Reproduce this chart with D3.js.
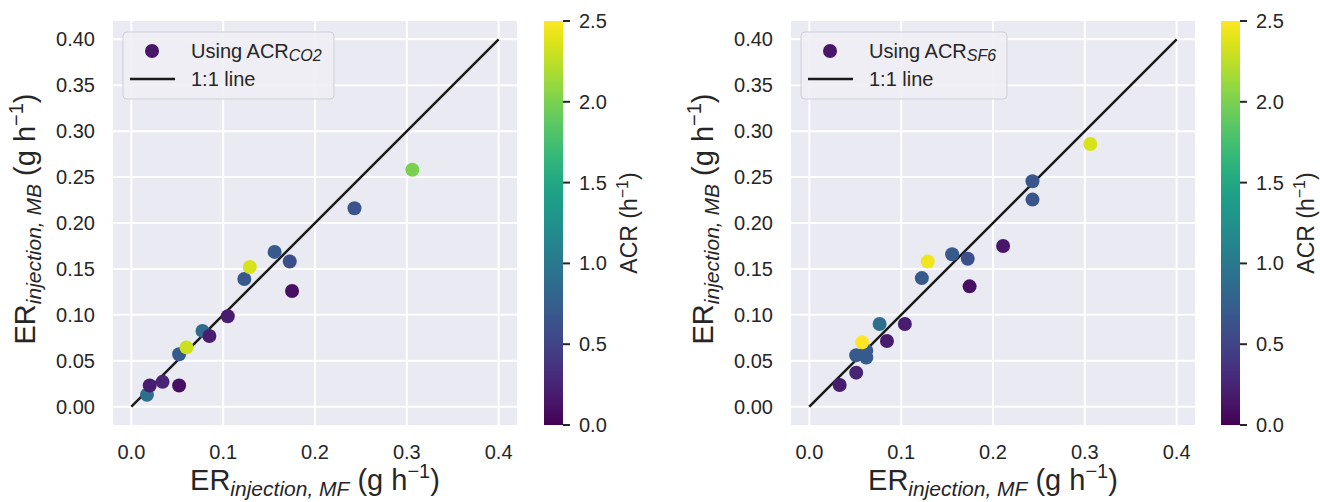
<!DOCTYPE html>
<html>
<head>
<meta charset="utf-8">
<script src="https://cdn.jsdelivr.net/npm/d3@7"></script>
<style>
  body { margin: 0; background: #fff; }
  svg text { font-family: "Liberation Sans", Arial, sans-serif; fill: #262626; }
</style>
</head>
<body>
<div id="chart"></div>
<script>
// ER injection, mass-flow (x) vs mass-balance (y), with ACR as colour
const co2MF  = [0.017, 0.020, 0.034, 0.052, 0.052, 0.060, 0.0775, 0.085, 0.105, 0.123, 0.129, 0.156, 0.1725, 0.175, 0.243, 0.306];
const co2MB  = [0.013, 0.023, 0.027, 0.023, 0.057, 0.0645, 0.0825, 0.077, 0.0985, 0.139, 0.152, 0.1685, 0.158, 0.126, 0.216, 0.258];
const co2ACR = [0.9, 0.2, 0.25, 0.1, 0.7, 2.3, 0.85, 0.2, 0.2, 0.7, 2.35, 0.7, 0.6, 0.1, 0.65, 2.0];

const sf6MF  = [0.033, 0.051, 0.051, 0.062, 0.062, 0.0575, 0.0765, 0.0845, 0.104, 0.1225, 0.129, 0.1555, 0.1725, 0.1745, 0.211, 0.243, 0.243, 0.306];
const sf6MB  = [0.0235, 0.037, 0.056, 0.0535, 0.061, 0.070, 0.090, 0.0715, 0.090, 0.140, 0.158, 0.166, 0.161, 0.131, 0.175, 0.2455, 0.2255, 0.286];
const sf6ACR = [0.2, 0.25, 0.7, 0.7, 0.7, 2.5, 0.9, 0.2, 0.2, 0.7, 2.45, 0.7, 0.6, 0.1, 0.15, 0.65, 0.65, 2.35];

const xTicks  = [0, 0.1, 0.2, 0.3, 0.4];
const yTicks  = [0, 0.05, 0.10, 0.15, 0.20, 0.25, 0.30, 0.35, 0.40];
const cbTicks = [0, 0.5, 1.0, 1.5, 2.0, 2.5];
const oneToOne = [0, 0.4];

const W = 1320, H = 502;
const svg = d3.select('#chart').append('svg')
    .attr('width', W).attr('height', H);

const color = d3.scaleSequential(d3.interpolateViridis).domain([0, 2.5]);

// shared gradient for the colour bars
const grad = svg.append('defs').append('linearGradient')
    .attr('id', 'viridis').attr('x1', 0).attr('y1', 1).attr('x2', 0).attr('y2', 0);
d3.range(0, 1.0001, 0.05).forEach(t => {
    grad.append('stop').attr('offset', t).attr('stop-color', d3.interpolateViridis(t));
});

function erLabel(sel, sub) {
    sel.append('tspan').text('ER');
    sel.append('tspan').attr('font-size', 21).attr('font-style', 'italic').attr('dy', 6).text(sub);
    sel.append('tspan').attr('dy', -6).text(' (g h');
    sel.append('tspan').attr('font-size', 20).attr('dy', -12).text('\u22121');
    sel.append('tspan').attr('dy', 12).text(')');
}

function drawPanel(p) {
    const x = d3.scaleLinear().domain([-0.02, 0.42]).range([p.left, p.left + 404]);
    const y = d3.scaleLinear().domain([-0.02, 0.42]).range([425, 21]);
    const g = svg.append('g');

    g.append('rect')
        .attr('x', x.range()[0]).attr('y', 21)
        .attr('width', 404).attr('height', 404)
        .attr('fill', '#eaeaf2');

    g.selectAll('.vgrid').data(xTicks).enter().append('line')
        .attr('x1', d => x(d)).attr('x2', d => x(d))
        .attr('y1', 21).attr('y2', 425)
        .attr('stroke', '#fff').attr('stroke-width', 2);
    g.selectAll('.hgrid').data(yTicks).enter().append('line')
        .attr('y1', d => y(d)).attr('y2', d => y(d))
        .attr('x1', x.range()[0]).attr('x2', x.range()[1])
        .attr('stroke', '#fff').attr('stroke-width', 2);

    g.selectAll('.xt').data(xTicks).enter().append('text')
        .attr('x', d => x(d)).attr('y', 459)
        .attr('text-anchor', 'middle').attr('font-size', 20)
        .text(d3.format('.1f'));
    g.selectAll('.yt').data(yTicks).enter().append('text')
        .attr('x', x.range()[0] - 18).attr('y', d => y(d) + 7)
        .attr('text-anchor', 'end').attr('font-size', 20)
        .text(d3.format('.2f'));

    // 1:1 line
    g.append('line')
        .attr('x1', x(oneToOne[0])).attr('y1', y(oneToOne[0]))
        .attr('x2', x(oneToOne[1])).attr('y2', y(oneToOne[1]))
        .attr('stroke', '#1a1a1a').attr('stroke-width', 2.5);

    g.selectAll('.pt').data(p.mf).enter().append('circle')
        .attr('cx', d => x(d))
        .attr('cy', (d, i) => y(p.mb[i]))
        .attr('r', 7)
        .attr('fill', (d, i) => color(p.acr[i]));

    // axis labels
    const xl = g.append('text')
        .attr('x', p.left + 202).attr('y', 490)
        .attr('text-anchor', 'middle').attr('font-size', 29);
    erLabel(xl, 'injection, MF');

    const yl = g.append('text')
        .attr('transform', `translate(${p.left - 78},219) rotate(-90)`)
        .attr('text-anchor', 'middle').attr('font-size', 29);
    erLabel(yl, 'injection, MB');

    // legend
    const lg = g.append('g');
    lg.append('rect')
        .attr('x', p.left + 10).attr('y', 32)
        .attr('width', p.legendW).attr('height', 67)
        .attr('rx', 4).attr('fill', '#eeeef4').attr('fill-opacity', 0.9)
        .attr('stroke', '#cfcfd6').attr('stroke-width', 1);
    lg.append('circle')
        .attr('cx', p.left + 39).attr('cy', 51).attr('r', 7)
        .attr('fill', color(0.15));
    lg.append('line')
        .attr('x1', p.left + 17).attr('x2', p.left + 62)
        .attr('y1', 79).attr('y2', 79)
        .attr('stroke', '#1a1a1a').attr('stroke-width', 2.5);
    const lt = lg.append('text').attr('x', p.left + 78).attr('y', 58).attr('font-size', 20);
    lt.append('tspan').text('Using ACR');
    lt.append('tspan').attr('font-size', 16).attr('font-style', 'italic').attr('dy', 3).text(p.gas);
    lg.append('text').attr('x', p.left + 78).attr('y', 86).attr('font-size', 20).text('1:1 line');

    // colour bar
    const cb = d3.scaleLinear().domain([0, 2.5]).range([425, 21]);
    g.append('rect')
        .attr('x', p.cbX).attr('y', 21).attr('width', 19).attr('height', 404)
        .attr('fill', 'url(#viridis)');
    g.selectAll('.cbt').data(cbTicks).enter().append('line')
        .attr('x1', p.cbX + 19).attr('x2', p.cbX + 26)
        .attr('y1', d => cb(d)).attr('y2', d => cb(d))
        .attr('stroke', '#262626').attr('stroke-width', 2);
    g.selectAll('.cbl').data(cbTicks).enter().append('text')
        .attr('x', p.cbX + 35).attr('y', d => cb(d) + 7)
        .attr('font-size', 20)
        .text(d3.format('.1f'));
    const cl = g.append('text')
        .attr('transform', `translate(${p.cbX + 93},223) rotate(-90)`)
        .attr('text-anchor', 'middle').attr('font-size', 23);
    cl.append('tspan').text('ACR (h');
    cl.append('tspan').attr('font-size', 16).attr('dy', -9).text('\u22121');
    cl.append('tspan').attr('dy', 9).text(')');
}

drawPanel({ left: 113, cbX: 544, legendW: 211, gas: 'CO2', mf: co2MF, mb: co2MB, acr: co2ACR });
drawPanel({ left: 791, cbX: 1221, legendW: 206, gas: 'SF6', mf: sf6MF, mb: sf6MB, acr: sf6ACR });
</script>
</body>
</html>
